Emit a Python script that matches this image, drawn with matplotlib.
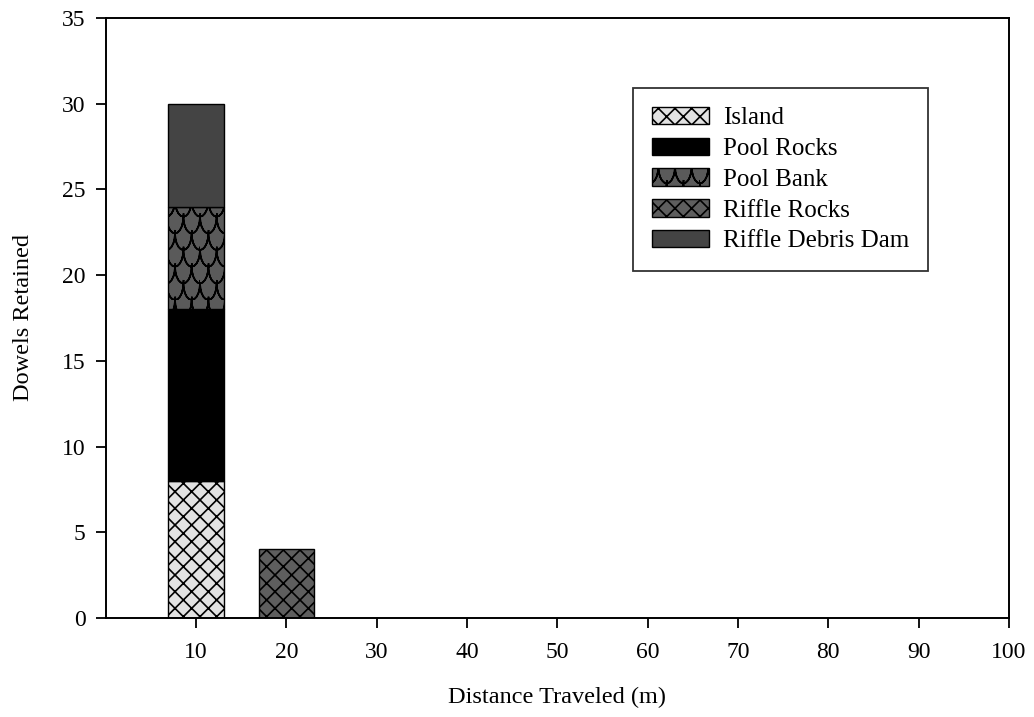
import warnings
import matplotlib
matplotlib.use("Agg")
import matplotlib.pyplot as plt
import matplotlib.hatch as mhatch
from matplotlib.path import Path
import numpy as np

warnings.filterwarnings("ignore", category=matplotlib.MatplotlibDeprecationWarning)

plt.rcParams["font.family"] = ["Liberation Serif", "DejaVu Serif"]
plt.rcParams["hatch.linewidth"] = 1.2
plt.rcParams["hatch.color"] = "black"


class ScaleHatch(mhatch.HatchPatternBase):
    """Fish-scale hatch, selected with the 'c' character."""
    seg = 10

    def __init__(self, hatch, density):
        self.n = int(hatch.count("c") * density)
        self.arcs = []
        if self.n:
            for r in range(self.n + 1):
                off = 0.5 * (r % 2)
                for c in range(-1, self.n + 1):
                    self.arcs.append(((c + off) / self.n, r / self.n))
        # each arc is traced out and back so it encloses no area
        self.k = 2 * self.seg + 1
        self.num_vertices = len(self.arcs) * self.k

    def set_vertices_and_codes(self, vertices, codes):
        t = np.linspace(np.pi, 2 * np.pi, self.seg + 1)
        t = np.concatenate([t, t[-2::-1]])
        w = 0.5 / self.n
        h = 1.0 / self.n
        k = self.k
        for i, (cx, cy) in enumerate(self.arcs):
            vertices[i * k:(i + 1) * k, 0] = cx + w * np.cos(t)
            vertices[i * k:(i + 1) * k, 1] = cy + h * np.sin(t)
            codes[i * k] = Path.MOVETO
            codes[i * k + 1:(i + 1) * k] = Path.LINETO


mhatch._hatch_types.append(ScaleHatch)

# distance classes (m) and dowel counts per habitat
distance = [10, 20, 30, 40, 50, 60, 70, 80, 90, 100]
island = [8, 0, 0, 0, 0, 0, 0, 0, 0, 0]
pool_rocks = [10, 0, 0, 0, 0, 0, 0, 0, 0, 0]
pool_bank = [6, 0, 0, 0, 0, 0, 0, 0, 0, 0]
riffle_rocks = [0, 4, 0, 0, 0, 0, 0, 0, 0, 0]
riffle_debris = [6, 0, 0, 0, 0, 0, 0, 0, 0, 0]

series = [
    ("Island", island, "#e2e2e2", "xx"),
    ("Pool Rocks", pool_rocks, "#000000", None),
    ("Pool Bank", pool_bank, "#5a5a5a", "c"),
    ("Riffle Rocks", riffle_rocks, "#5e5e5e", "xx"),
    ("Riffle Debris Dam", riffle_debris, "#444444", None),
]

fig = plt.figure(figsize=(10.34, 7.17), dpi=100, facecolor="white")
ax = fig.add_axes([0.1022, 0.138, 0.8736, 0.837])

bottom = np.zeros(len(distance))
for name, vals, color, hatch in series:
    vals = np.array(vals, dtype=float)
    mask = vals > 0
    x = np.array(distance)[mask]
    ax.bar(x, vals[mask], width=6.1, bottom=bottom[mask], color=color,
           edgecolor="black", linewidth=1.0, hatch=hatch, label=name)
    bottom += vals

ax.set_xlim(0, 100)
ax.set_ylim(0, 35)
ax.set_xticks(distance)
ax.set_yticks(range(0, 36, 5))
ax.tick_params(direction="out", length=7.5, width=1.3, labelsize=17, pad=7)
ax.tick_params(axis="x", pad=10)
for s in ax.spines.values():
    s.set_linewidth(1.4)

ax.set_xlabel("Distance Traveled (m)", fontsize=17.5, labelpad=17)
ax.set_ylabel("Dowels Retained", fontsize=17.5, labelpad=20)

leg = ax.legend(loc="upper left", bbox_to_anchor=(0.584, 0.883), fontsize=18,
                frameon=True, fancybox=False, edgecolor="black",
                handlelength=2.3, handleheight=0.7, handletextpad=0.55,
                labelspacing=0.33, borderpad=0.75, borderaxespad=0)
leg.get_frame().set_linewidth(1.3)

fig.savefig("out.png", dpi=100, facecolor="white")
